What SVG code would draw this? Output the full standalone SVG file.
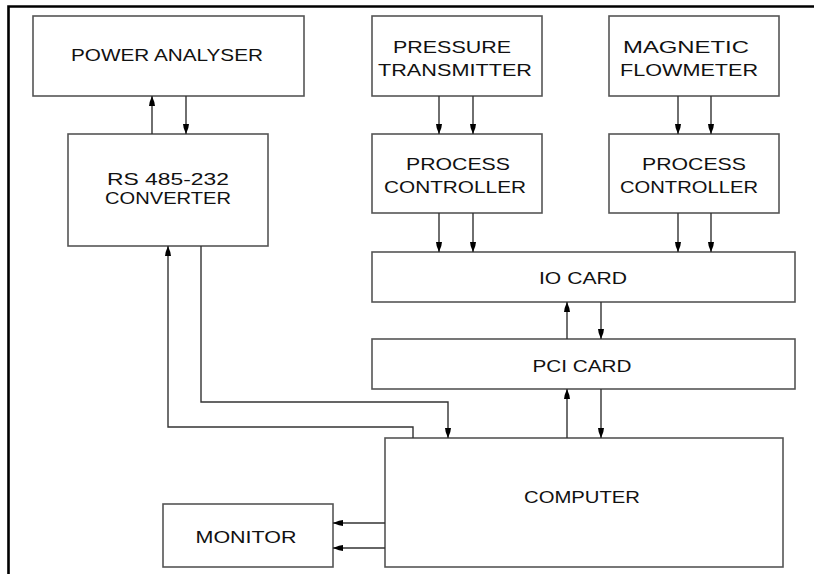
<svg xmlns="http://www.w3.org/2000/svg" width="814" height="574" viewBox="0 0 814 574">
  <defs>
    <marker id="head" viewBox="0 0 10 7" refX="10" refY="3.5" markerWidth="10" markerHeight="7" markerUnits="userSpaceOnUse" orient="auto">
      <path d="M0,0.5 L4,1.2 L10,3.5 L4,5.8 L0,6.5 Z" fill="#000"/>
    </marker>
    <style>
      .box { fill: #fff; stroke: #555; stroke-width: 1.6; }
      .lbl { font-family: "Liberation Sans", Arial, sans-serif; font-size: 17px; fill: #111; text-anchor: middle; }
      .wire { fill: none; stroke: #333; stroke-width: 1.4; }
      .arrow { marker-end: url(#head); }
      .frame { fill: none; stroke: #000; stroke-width: 2.6; }
    </style>
  </defs>

  <rect x="0" y="0" width="814" height="574" fill="#fff"/>

  <!-- page frame -->
  <path class="frame" d="M8.5,574 V6.5 H814"/>

  <g id="power-analyser">
    <rect class="box" x="33" y="16" width="271" height="80"/>
    <text class="lbl" x="167" y="61" textLength="192" lengthAdjust="spacingAndGlyphs">POWER ANALYSER</text>
  </g>

  <g id="rs-converter">
    <rect class="box" x="68" y="134" width="200" height="112"/>
    <text class="lbl" x="168" y="185" textLength="122" lengthAdjust="spacingAndGlyphs">RS 485-232</text>
    <text class="lbl" x="168" y="204" textLength="126" lengthAdjust="spacingAndGlyphs">CONVERTER</text>
  </g>

  <g id="pressure-transmitter">
    <rect class="box" x="372" y="16" width="170" height="80"/>
    <text class="lbl" x="452" y="53" textLength="118" lengthAdjust="spacingAndGlyphs">PRESSURE</text>
    <text class="lbl" x="455" y="76" textLength="154" lengthAdjust="spacingAndGlyphs">TRANSMITTER</text>
  </g>

  <g id="magnetic-flowmeter">
    <rect class="box" x="609" y="16" width="170" height="80"/>
    <text class="lbl" x="686" y="53" textLength="126" lengthAdjust="spacingAndGlyphs">MAGNETIC</text>
    <text class="lbl" x="689" y="76" textLength="138" lengthAdjust="spacingAndGlyphs">FLOWMETER</text>
  </g>

  <g id="process-controller-1">
    <rect class="box" x="372" y="134" width="170" height="79"/>
    <text class="lbl" x="458" y="170" textLength="104" lengthAdjust="spacingAndGlyphs">PROCESS</text>
    <text class="lbl" x="455" y="193" textLength="142" lengthAdjust="spacingAndGlyphs">CONTROLLER</text>
  </g>

  <g id="process-controller-2">
    <rect class="box" x="609" y="134" width="170" height="79"/>
    <text class="lbl" x="694" y="170" textLength="104" lengthAdjust="spacingAndGlyphs">PROCESS</text>
    <text class="lbl" x="689" y="193" textLength="138" lengthAdjust="spacingAndGlyphs">CONTROLLER</text>
  </g>

  <g id="io-card">
    <rect class="box" x="372" y="252" width="423" height="50"/>
    <text class="lbl" x="583" y="284" textLength="88" lengthAdjust="spacingAndGlyphs">IO CARD</text>
  </g>

  <g id="pci-card">
    <rect class="box" x="372" y="339" width="423" height="50"/>
    <text class="lbl" x="582" y="372" textLength="99" lengthAdjust="spacingAndGlyphs">PCI CARD</text>
  </g>

  <g id="computer">
    <rect class="box" x="385" y="438" width="398" height="129"/>
    <text class="lbl" x="582" y="503" textLength="116" lengthAdjust="spacingAndGlyphs">COMPUTER</text>
  </g>

  <g id="monitor">
    <rect class="box" x="163" y="504" width="170" height="63"/>
    <text class="lbl" x="246" y="543" textLength="101" lengthAdjust="spacingAndGlyphs">MONITOR</text>
  </g>

  <g id="connectors">
    <!-- power analyser <-> converter -->
    <path class="wire arrow" d="M152,134 V96"/>
    <path class="wire arrow" d="M186,96 V134"/>
    <!-- transmitters to controllers -->
    <path class="wire arrow" d="M439,96 V134"/>
    <path class="wire arrow" d="M473,96 V134"/>
    <path class="wire arrow" d="M678,96 V134"/>
    <path class="wire arrow" d="M711,96 V134"/>
    <!-- controllers to IO card -->
    <path class="wire arrow" d="M439,213 V252"/>
    <path class="wire arrow" d="M473,213 V252"/>
    <path class="wire arrow" d="M678,213 V252"/>
    <path class="wire arrow" d="M711,213 V252"/>
    <!-- IO card <-> PCI card -->
    <path class="wire arrow" d="M567,339 V302"/>
    <path class="wire arrow" d="M601,302 V339"/>
    <!-- PCI card <-> computer -->
    <path class="wire arrow" d="M567,438 V389"/>
    <path class="wire arrow" d="M601,389 V438"/>
    <!-- converter <-> computer -->
    <path class="wire arrow" d="M201,246 V402 H448 V438"/>
    <path class="wire arrow" d="M413,438 V427 H168 V246"/>
    <!-- computer to monitor -->
    <path class="wire arrow" d="M385,523 H333"/>
    <path class="wire arrow" d="M385,548 H333"/>
  </g>
</svg>
